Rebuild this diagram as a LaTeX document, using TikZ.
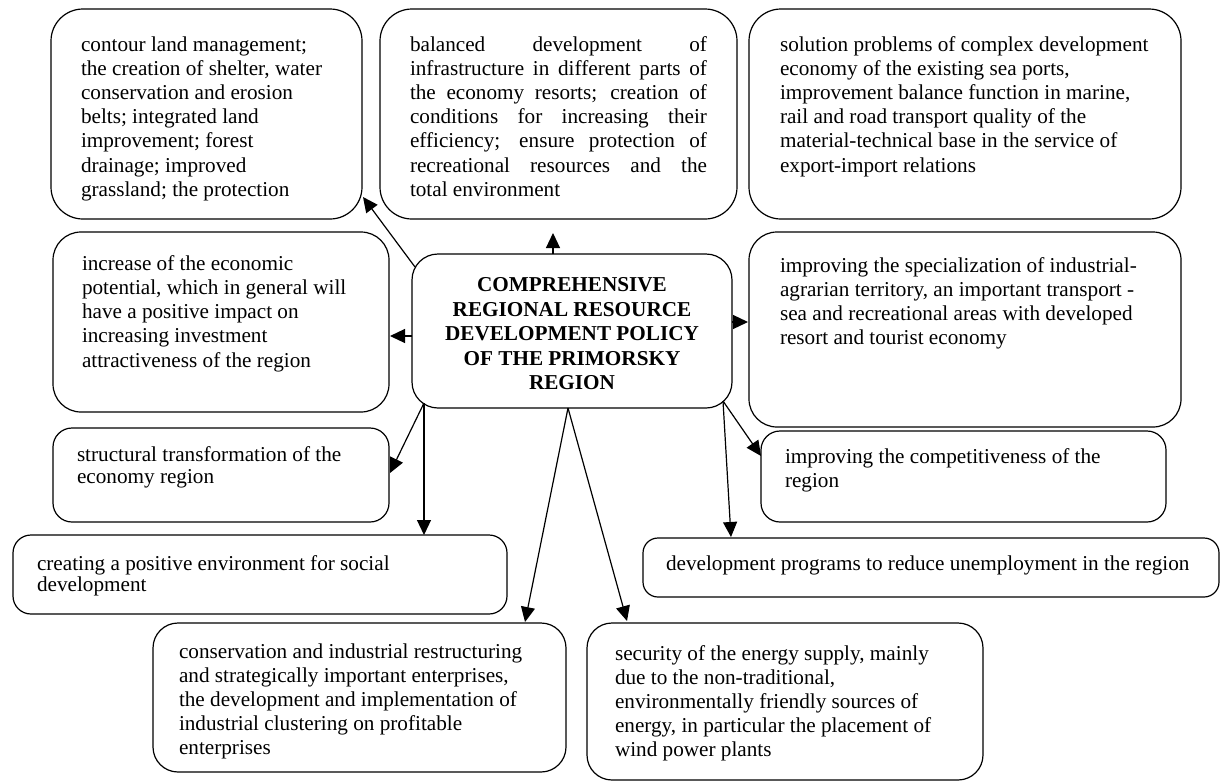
\documentclass[tikz,border=0pt]{standalone}
\usepackage{fontspec}
\setmainfont{Liberation Serif}
\usetikzlibrary{arrows.meta,calc}
% #1 width, #2 height, #3 left inset, #4 first baseline from top, #5 baselineskip, #6 text
\newcommand\boxtext[6]{\parbox[t][#2][t]{#1}{\fontsize{21.2pt}{#5}\selectfont\leftskip=#3\relax\rightskip=0pt plus 1fil\relax\parfillskip=0pt\relax\vspace*{\dimexpr#4-\ht\strutbox\relax}\strut#6}}
% #1 width, #2 height, #3 first baseline from top, #4 baselineskip, #5 text
\newcommand\centertext[5]{\parbox[t][#2][t]{#1}{\fontsize{21.2pt}{#4}\selectfont\bfseries\centering\vspace*{\dimexpr#3-\ht\strutbox\relax}\strut#5}}
\newcommand\jline[1]{\makebox[297pt][s]{#1}}
\tikzset{
  box/.style={draw, line width=1.2pt, inner sep=0pt, outer sep=0pt, anchor=north west},
  arr/.style={line width=1.2pt, -{Triangle[length=15pt,width=14pt]}}
}
\begin{document}
\begin{tikzpicture}[x=1pt,y=-1pt]
\useasboundingbox (0,0) rectangle (1221,782);
% top row
\node[box, rounded corners=32pt] (A) at (51,9)
  {\boxtext{311pt}{210pt}{30pt}{42pt}{24.2pt}{contour land management;\\the creation of shelter, water\\conservation and erosion\\belts; integrated land\\improvement; forest\\drainage; improved\\grassland; the protection}};
\node[box, rounded corners=32pt] (B) at (380,9)
  {\boxtext{357pt}{210pt}{30pt}{42pt}{24.2pt}{\jline{balanced development of}\\\jline{infrastructure in different parts of}\\\jline{the economy resorts; creation of}\\\jline{conditions for increasing their}\\\jline{efficiency; ensure protection of}\\\jline{recreational resources and the}\\total environment}};
\node[box, rounded corners=32pt] (C) at (749,9)
  {\boxtext{432pt}{210pt}{31pt}{42pt}{24.2pt}{solution problems of complex development\\economy of the existing sea ports,\\improvement balance function in marine,\\rail and road transport quality of the\\material-technical base in the service of\\export-import relations}};
% middle row
\node[box, rounded corners=28pt] (D) at (53,232)
  {\boxtext{336pt}{180pt}{29pt}{38pt}{24.3pt}{increase of the economic\\potential, which in general will\\have a positive impact on\\increasing investment\\attractiveness of the region}};
\node[box, rounded corners=26pt] (P) at (412,254)
  {\centertext{320pt}{154pt}{37.5pt}{24.6pt}{COMPREHENSIVE\\REGIONAL RESOURCE\\DEVELOPMENT POLICY\\OF THE PRIMORSKY\\REGION}};
\node[box, rounded corners=28pt] (E) at (749,232)
  {\boxtext{432pt}{195pt}{31pt}{40pt}{24pt}{improving the specialization of industrial-\\agrarian territory, an important transport -\\sea and recreational areas with developed\\resort and tourist economy}};
% lower boxes
\node[box, rounded corners=19pt] (F) at (53,428)
  {\boxtext{336pt}{94pt}{24pt}{33.7pt}{21.7pt}{structural transformation of the\\economy region}};
\node[box, rounded corners=19pt] (G) at (761,431)
  {\boxtext{405pt}{91pt}{24pt}{32pt}{24.5pt}{improving the competitiveness of the\\region}};
\node[box, rounded corners=18pt] (H) at (13,535)
  {\boxtext{494pt}{79pt}{24pt}{35pt}{21.7pt}{creating a positive environment for social\\development}};
\node[box, rounded corners=15pt] (I) at (643,538)
  {\boxtext{576pt}{59pt}{23pt}{32pt}{24pt}{development programs to reduce unemployment in the region}};
\node[box, rounded corners=25pt] (J) at (153,623)
  {\boxtext{413pt}{149pt}{26pt}{35pt}{24pt}{conservation and industrial restructuring\\and strategically important enterprises,\\the development and implementation of\\industrial clustering on profitable\\enterprises}};
\node[box, rounded corners=25pt] (K) at (587,623)
  {\boxtext{396pt}{157pt}{28pt}{37pt}{24pt}{security of the energy supply, mainly\\due to the non-traditional,\\environmentally friendly sources of\\energy, in particular the placement of\\wind power plants}};
% connectors
\draw[arr] ($(P.north west)+(3,13)$) -- ($(A.south east)+(1,-22)$);
\draw[arr] ($(P.north west)+(141,0)$) -- ($(B.south west)+(173,14)$);
\draw[arr] ($(P.west)+(0,5)$) -- ($(D.east)+(1,14)$);
\draw[arr] ($(P.east)+(0,-9)$) -- ($(E.west)+(-1,-7.5)$);
\draw[arr] ($(P.south west)+(12,-5)$) -- ($(F.east)+(1,-2)$);
\draw[arr] ($(P.south west)+(12,-5)$) -- ($(H.north west)+(411,0)$);
\draw[arr] ($(P.south)+(-4,0)$) -- ($(J.north east)+(-41,-1)$);
\draw[arr] ($(P.south)+(-4,0)$) -- ($(K.north west)+(40,-2)$);
\draw[arr] ($(P.south east)+(-9,-7)$) -- ($(G.north west)+(0,25)$);
\draw[arr] ($(P.south east)+(-9,-7)$) -- ($(I.north west)+(88,-1)$);
\end{tikzpicture}
\end{document}
